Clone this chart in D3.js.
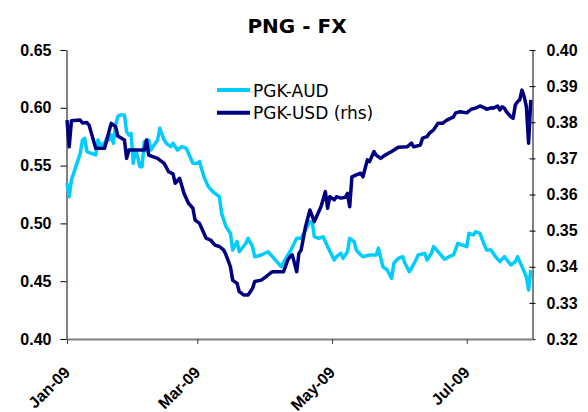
<!DOCTYPE html>
<html>

<head>
    <title>PNG - FX</title>
    <script src="https://d3js.org/d3.v7.min.js"></script>
    <style>
        body {
            margin: 0;
            background: #fff;
            font-family: "DejaVu Sans", Verdana, sans-serif;
        }

        .tick-label {
            font-size: 16px;
            font-weight: bold;
            fill: #000;
        }
    </style>
</head>

<body>
    <div id="chart"></div>

    <script>
        // PGK-AUD, left axis
        const audDates = [
            "2009-01-01", "2009-01-02", "2009-01-03", "2009-01-05", "2009-01-07", "2009-01-08", "2009-01-09", "2009-01-10",
            "2009-01-12", "2009-01-14", "2009-01-15", "2009-01-16", "2009-01-18", "2009-01-19", "2009-01-20", "2009-01-21",
            "2009-01-22", "2009-01-23", "2009-01-24", "2009-01-25", "2009-01-27", "2009-01-28", "2009-01-29", "2009-01-30",
            "2009-01-31",
            "2009-02-01", "2009-02-02", "2009-02-03", "2009-02-04", "2009-02-05", "2009-02-06", "2009-02-07", "2009-02-08",
            "2009-02-09", "2009-02-11", "2009-02-12", "2009-02-14", "2009-02-15", "2009-02-17", "2009-02-18", "2009-02-20",
            "2009-02-22", "2009-02-24", "2009-02-26", "2009-02-27",
            "2009-03-01", "2009-03-02", "2009-03-04", "2009-03-06", "2009-03-08", "2009-03-11", "2009-03-12", "2009-03-14",
            "2009-03-16", "2009-03-17", "2009-03-19", "2009-03-20", "2009-03-23", "2009-03-24", "2009-03-26", "2009-03-27",
            "2009-03-30",
            "2009-04-02", "2009-04-04", "2009-04-06", "2009-04-08", "2009-04-11", "2009-04-12", "2009-04-15", "2009-04-17",
            "2009-04-19", "2009-04-21", "2009-04-22", "2009-04-23", "2009-04-25", "2009-04-27", "2009-04-29",
            "2009-05-02", "2009-05-03", "2009-05-05", "2009-05-06", "2009-05-08", "2009-05-09", "2009-05-11", "2009-05-12",
            "2009-05-14", "2009-05-15", "2009-05-18", "2009-05-21", "2009-05-22", "2009-05-24", "2009-05-26", "2009-05-28",
            "2009-05-29", "2009-05-31",
            "2009-06-02", "2009-06-03", "2009-06-05", "2009-06-06", "2009-06-08", "2009-06-09", "2009-06-12", "2009-06-13",
            "2009-06-15", "2009-06-16", "2009-06-18", "2009-06-21", "2009-06-23", "2009-06-25", "2009-06-27", "2009-06-29",
            "2009-07-01", "2009-07-02", "2009-07-04", "2009-07-05", "2009-07-07", "2009-07-09", "2009-07-10", "2009-07-12",
            "2009-07-14", "2009-07-16", "2009-07-18", "2009-07-21", "2009-07-23", "2009-07-24", "2009-07-26", "2009-07-28",
            "2009-07-29", "2009-07-30"
        ];
        const audValues = [
            0.5347, 0.5231, 0.5375, 0.5491, 0.5606, 0.5721, 0.5736, 0.5620,
            0.5606, 0.5592, 0.5721, 0.5678, 0.5693, 0.5736, 0.5721, 0.5765,
            0.5693, 0.5851, 0.5923, 0.5938, 0.5938, 0.5793, 0.5765, 0.5779,
            0.5520,
            0.5635, 0.5577, 0.5491, 0.5491, 0.5707, 0.5635, 0.5721, 0.5635,
            0.5664, 0.5721, 0.5823, 0.5721, 0.5693, 0.5664, 0.5693, 0.5635,
            0.5664, 0.5650, 0.5563, 0.5520,
            0.5520, 0.5534, 0.5404, 0.5318, 0.5274, 0.5231, 0.5087, 0.4972,
            0.4914, 0.4770, 0.4842, 0.4755, 0.4828, 0.4871, 0.4799, 0.4712,
            0.4727,
            0.4755, 0.4712, 0.4669, 0.4626, 0.4727, 0.4755, 0.4871, 0.4871,
            0.4943, 0.5015, 0.5015, 0.4885, 0.4871, 0.4885, 0.4799,
            0.4683, 0.4712, 0.4741, 0.4698, 0.4755, 0.4871, 0.4842, 0.4770,
            0.4727, 0.4712, 0.4727, 0.4727, 0.4785, 0.4626, 0.4597, 0.4525,
            0.4655, 0.4698,
            0.4712, 0.4655, 0.4582, 0.4612, 0.4683, 0.4727, 0.4741, 0.4683,
            0.4741, 0.4799, 0.4755, 0.4690, 0.4712, 0.4727, 0.4828, 0.4813,
            0.4799, 0.4914, 0.4900, 0.4928, 0.4914, 0.4813, 0.4770, 0.4770,
            0.4712, 0.4669, 0.4712, 0.4640, 0.4669, 0.4712, 0.4626, 0.4539,
            0.4424, 0.4597
        ];

        // PGK-USD, right axis
        const usdDates = [
            "2009-01-01", "2009-01-02", "2009-01-03", "2009-01-07", "2009-01-08", "2009-01-10", "2009-01-11", "2009-01-14",
            "2009-01-18", "2009-01-21", "2009-01-23", "2009-01-24", "2009-01-27", "2009-01-28", "2009-01-29",
            "2009-02-05", "2009-02-06", "2009-02-07", "2009-02-11", "2009-02-14", "2009-02-16", "2009-02-18", "2009-02-19",
            "2009-02-21", "2009-02-23", "2009-02-25", "2009-02-27", "2009-02-28",
            "2009-03-02", "2009-03-04", "2009-03-05", "2009-03-07", "2009-03-09", "2009-03-11", "2009-03-13", "2009-03-14",
            "2009-03-16", "2009-03-17", "2009-03-19", "2009-03-20", "2009-03-22", "2009-03-24", "2009-03-26", "2009-03-27",
            "2009-03-30",
            "2009-04-01", "2009-04-03", "2009-04-04", "2009-04-09", "2009-04-11", "2009-04-12", "2009-04-13", "2009-04-14",
            "2009-04-15", "2009-04-16", "2009-04-17", "2009-04-19", "2009-04-21", "2009-04-23", "2009-04-24", "2009-04-26",
            "2009-04-28", "2009-04-29", "2009-04-30",
            "2009-05-02", "2009-05-03", "2009-05-05", "2009-05-07", "2009-05-08", "2009-05-09", "2009-05-10", "2009-05-12",
            "2009-05-14", "2009-05-15", "2009-05-17", "2009-05-18", "2009-05-20", "2009-05-21", "2009-05-23", "2009-05-25",
            "2009-05-28", "2009-05-31",
            "2009-06-04", "2009-06-06", "2009-06-07", "2009-06-10", "2009-06-11", "2009-06-13", "2009-06-14", "2009-06-16",
            "2009-06-18", "2009-06-20", "2009-06-22", "2009-06-25", "2009-06-26", "2009-06-28",
            "2009-07-01", "2009-07-03", "2009-07-05", "2009-07-07", "2009-07-09", "2009-07-10", "2009-07-12", "2009-07-13",
            "2009-07-15", "2009-07-16", "2009-07-17", "2009-07-18", "2009-07-19", "2009-07-21", "2009-07-22", "2009-07-23",
            "2009-07-24", "2009-07-25", "2009-07-26", "2009-07-27", "2009-07-28", "2009-07-29", "2009-07-30"
        ];
        const usdValues = [
            0.3806, 0.3732, 0.3804, 0.3806, 0.3798, 0.3799, 0.3792, 0.3728,
            0.3728, 0.3797, 0.3788, 0.3762, 0.3751, 0.3700, 0.3723,
            0.3723, 0.3751, 0.3709, 0.3700, 0.3686, 0.3663, 0.3657, 0.3631,
            0.3645, 0.3603, 0.3576, 0.3562, 0.3529,
            0.3520, 0.3493, 0.3479, 0.3474, 0.3460, 0.3456, 0.3446, 0.3433,
            0.3400, 0.3363, 0.3354, 0.3331, 0.3322, 0.3322, 0.3340, 0.3359,
            0.3363,
            0.3372, 0.3382, 0.3386, 0.3386, 0.3419, 0.3428, 0.3433, 0.3410,
            0.3386, 0.3437, 0.3446, 0.3511, 0.3557, 0.3525, 0.3539, 0.3566,
            0.3608, 0.3562, 0.3594,
            0.3585, 0.3594, 0.3590, 0.3592, 0.3603, 0.3566, 0.3649, 0.3654,
            0.3659, 0.3649, 0.3696, 0.3691, 0.3719, 0.3709, 0.3700, 0.3709,
            0.3719, 0.3731,
            0.3732, 0.3742, 0.3732, 0.3737, 0.3756, 0.3760, 0.3769, 0.3779,
            0.3797, 0.3797, 0.3806, 0.3815, 0.3826, 0.3829,
            0.3826, 0.3836, 0.3839, 0.3845, 0.3840, 0.3836, 0.3840, 0.3839,
            0.3845, 0.3834, 0.3843, 0.3839, 0.3829, 0.3815, 0.3811, 0.3848,
            0.3857, 0.3862, 0.3889, 0.3871, 0.3843, 0.3742, 0.3862
        ];

        const xTicks = ["2009-01-01", "2009-03-01", "2009-05-01", "2009-07-01"];
        const leftTicks = [0.40, 0.45, 0.50, 0.55, 0.60, 0.65];
        const rightTicks = [0.32, 0.33, 0.34, 0.35, 0.36, 0.37, 0.38, 0.39, 0.40];
        const seriesNames = ["PGK-AUD", "PGK-USD (rhs)"];
        const seriesColors = ["#00ccff", "#000080"];

        const parseDate = d3.timeParse("%Y-%m-%d");
        const aud = audDates.map((d, i) => ({ date: parseDate(d), value: audValues[i] }));
        const usd = usdDates.map((d, i) => ({ date: parseDate(d), value: usdValues[i] }));

        const width = 588, height = 412;
        const plot = { left: 67, right: 533, top: 50, bottom: 339 };

        const svg = d3.select("#chart")
            .append("svg")
            .attr("width", width)
            .attr("height", height);

        const x = d3.scaleTime()
            .domain([parseDate("2009-01-01"), parseDate("2009-07-31")])
            .range([plot.left, plot.right]);

        const yL = d3.scaleLinear().domain([0.40, 0.65]).range([plot.bottom, plot.top]);
        const yR = d3.scaleLinear().domain([0.32, 0.40]).range([plot.bottom, plot.top]);

        // title
        svg.append("text")
            .attr("x", 297)
            .attr("y", 33)
            .attr("text-anchor", "middle")
            .style("font-size", "20px")
            .style("font-weight", "bold")
            .text("PNG - FX");

        // left axis
        const gL = svg.append("g")
            .attr("transform", `translate(${plot.left - 0.5},0)`)
            .call(d3.axisLeft(yL).tickValues(leftTicks).tickFormat(d3.format(".2f"))
                .tickSize(6).tickSizeOuter(0).tickPadding(9));
        gL.select(".domain").attr("stroke", "#000");
        gL.selectAll(".tick text").attr("class", "tick-label").attr("font-family", null).attr("font-size", null);

        // right axis, ticks cross the line
        const gR = svg.append("g")
            .attr("transform", `translate(${plot.right - 0.5},0)`)
            .call(d3.axisRight(yR).tickValues(rightTicks).tickFormat(d3.format(".2f"))
                .tickSize(3).tickSizeOuter(0).tickPadding(11));
        gR.selectAll(".tick line").attr("x1", -3);
        gR.selectAll(".tick text").attr("class", "tick-label").attr("font-family", null).attr("font-size", null);

        // bottom axis
        const gX = svg.append("g")
            .attr("transform", `translate(0,${plot.bottom})`)
            .call(d3.axisBottom(x).tickValues(xTicks.map(parseDate)).tickFormat(d3.timeFormat("%b-%y"))
                .tickSize(5).tickSizeOuter(0).tickPadding(0));
        gX.select(".domain").attr("stroke", "#808080").attr("stroke-width", 2);
        gX.selectAll(".tick line").attr("stroke", "#404040");
        gX.selectAll(".tick text")
            .attr("class", "tick-label")
            .attr("font-family", null).attr("font-size", null)
            .attr("text-anchor", "end")
            .attr("dy", "0.7em")
            .attr("transform", "translate(-8,23) rotate(-45)");

        // lines
        const lineL = d3.line().x(d => x(d.date)).y(d => yL(d.value));
        const lineR = d3.line().x(d => x(d.date)).y(d => yR(d.value));

        svg.append("path")
            .datum(aud)
            .attr("fill", "none")
            .attr("stroke", seriesColors[0])
            .attr("stroke-width", 3.5)
            .attr("stroke-linejoin", "round")
            .attr("d", lineL);

        svg.append("path")
            .datum(usd)
            .attr("fill", "none")
            .attr("stroke", seriesColors[1])
            .attr("stroke-width", 3.5)
            .attr("stroke-linejoin", "round")
            .attr("d", lineR);

        // legend
        const legend = svg.append("g").attr("transform", "translate(217,90)");
        seriesNames.forEach((name, i) => {
            const row = legend.append("g").attr("transform", `translate(0,${i * 22.7})`);
            row.append("line")
                .attr("x1", 0).attr("x2", 33)
                .attr("stroke", seriesColors[i])
                .attr("stroke-width", 4);
            row.append("text")
                .attr("x", 36)
                .attr("y", 6.5)
                .style("font-size", "17px")
                .text(name);
        });
    </script>
</body>

</html>
